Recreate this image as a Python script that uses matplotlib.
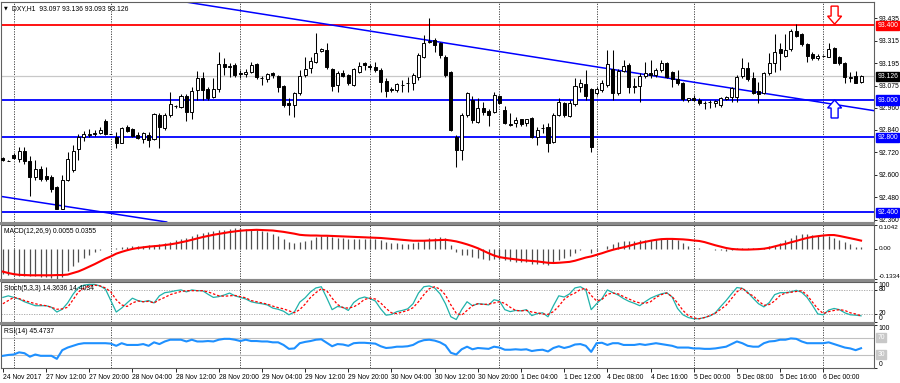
import matplotlib.pyplot as plt
from matplotlib.patches import Polygon, Rectangle

plt.rcParams['font.family'] = ['Liberation Sans', 'DejaVu Sans']
FS = 4.9

# ---- DXY H1 candles ----
opens = [
    92.690, 92.676, 92.705, 92.687, 92.730, 92.673, 92.587, 92.634, 92.595, 92.590,
    92.534, 92.420, 92.573, 92.627, 92.737, 92.800, 92.815, 92.818, 92.826, 92.890,
    92.818, 92.805, 92.772, 92.854, 92.843, 92.815, 92.790, 92.813, 92.790, 92.920,
    92.849, 92.920, 92.970, 92.961, 93.021, 92.938, 93.053, 93.120, 93.057, 93.018,
    93.057, 93.190, 93.176, 93.187, 93.142, 93.138, 93.151, 93.192, 93.118, 93.110,
    93.142, 93.128, 93.075, 92.986, 92.975, 93.036, 93.133, 93.169, 93.204, 93.262,
    93.267, 93.164, 93.080, 93.146, 93.133, 93.080, 93.151, 93.196, 93.180, 93.174,
    93.160, 93.103, 93.055, 93.053, 93.080, 93.090, 93.089, 93.124, 93.231, 93.307,
    93.320, 93.302, 93.231, 93.151, 92.804, 92.733, 92.920, 93.000, 92.884, 92.956,
    92.943, 92.938, 93.021, 92.947, 92.870, 92.875, 92.896, 92.875, 92.902, 92.804,
    92.850, 92.854, 92.778, 92.920, 92.986, 92.915, 92.978, 93.071, 93.085, 93.057,
    93.036, 93.053, 93.080, 93.164, 93.036, 93.156, 93.187, 93.071, 93.075, 93.128,
    93.146, 93.133, 93.160, 93.200, 93.151, 93.110, 93.092, 93.000, 93.012, 93.000,
    92.986, 92.990, 92.986, 92.973, 93.004, 93.018, 93.018, 93.130, 93.172, 93.120,
    93.048, 93.040, 93.142, 93.196, 93.270, 93.236, 93.272, 93.368, 93.350, 93.297,
    93.244, 93.222, 93.235, 93.231, 93.275, 93.227, 93.199, 93.120, 93.128, 93.097,
]
highs = [
    92.695, 92.678, 92.715, 92.750, 92.750, 92.700, 92.680, 92.650, 92.640, 92.600,
    92.540, 92.600, 92.724, 92.760, 92.820, 92.836, 92.843, 92.840, 92.856, 92.900,
    92.820, 92.830, 92.857, 92.867, 92.849, 92.830, 92.830, 92.830, 92.930, 92.930,
    92.930, 93.045, 92.975, 93.032, 93.032, 93.070, 93.157, 93.150, 93.071, 93.116,
    93.258, 93.222, 93.196, 93.196, 93.160, 93.165, 93.205, 93.196, 93.130, 93.145,
    93.151, 93.133, 93.080, 93.009, 93.045, 93.160, 93.231, 93.231, 93.356, 93.276,
    93.306, 93.169, 93.156, 93.160, 93.138, 93.169, 93.204, 93.204, 93.190, 93.204,
    93.169, 93.116, 93.070, 93.092, 93.107, 93.124, 93.142, 93.249, 93.347, 93.435,
    93.329, 93.310, 93.240, 93.156, 92.813, 92.929, 93.044, 93.021, 93.009, 92.991,
    92.950, 93.044, 93.027, 92.968, 92.930, 92.907, 92.900, 92.900, 92.910, 92.858,
    92.872, 92.875, 92.930, 93.009, 92.991, 93.000, 93.115, 93.110, 93.160, 93.062,
    93.070, 93.107, 93.266, 93.266, 93.164, 93.213, 93.196, 93.116, 93.142, 93.204,
    93.213, 93.169, 93.213, 93.204, 93.156, 93.160, 93.098, 93.013, 93.027, 93.013,
    92.995, 92.998, 93.000, 93.018, 93.022, 93.070, 93.133, 93.225, 93.204, 93.147,
    93.098, 93.150, 93.249, 93.350, 93.302, 93.350, 93.379, 93.405, 93.356, 93.302,
    93.254, 93.245, 93.240, 93.306, 93.284, 93.235, 93.204, 93.151, 93.156, 93.136,
]
lows = [
    92.675, 92.674, 92.683, 92.670, 92.660, 92.490, 92.573, 92.570, 92.570, 92.510,
    92.417, 92.417, 92.570, 92.618, 92.680, 92.783, 92.805, 92.810, 92.818, 92.813,
    92.816, 92.743, 92.770, 92.830, 92.800, 92.790, 92.770, 92.750, 92.785, 92.742,
    92.840, 92.911, 92.960, 92.955, 92.890, 92.900, 93.000, 93.000, 93.000, 93.009,
    93.045, 93.133, 93.125, 93.125, 93.120, 93.125, 93.142, 93.114, 93.080, 93.098,
    93.116, 93.045, 92.964, 92.920, 92.910, 93.027, 93.124, 93.142, 93.196, 93.258,
    93.164, 93.050, 93.044, 93.124, 93.080, 93.075, 93.146, 93.160, 93.160, 93.151,
    93.044, 93.018, 93.044, 93.044, 93.044, 93.044, 93.053, 93.107, 93.222, 93.302,
    93.258, 93.222, 93.124, 92.836, 92.644, 92.680, 92.911, 92.875, 92.879, 92.920,
    92.860, 92.929, 92.982, 92.870, 92.860, 92.858, 92.860, 92.860, 92.795, 92.760,
    92.826, 92.720, 92.772, 92.915, 92.910, 92.911, 92.968, 93.044, 93.000, 92.720,
    93.027, 93.044, 93.071, 93.000, 93.027, 93.151, 93.036, 93.036, 92.991, 93.120,
    93.116, 93.124, 93.151, 93.120, 93.071, 93.080, 92.996, 92.991, 92.995, 92.973,
    92.950, 92.955, 92.965, 92.964, 92.998, 92.990, 92.990, 93.116, 93.100, 93.030,
    92.982, 93.030, 93.133, 93.151, 93.160, 93.231, 93.262, 93.338, 93.290, 93.204,
    93.213, 93.215, 93.230, 93.227, 93.196, 93.187, 93.089, 93.098, 93.089, 93.093,
]
closes = [
    92.680, 92.676, 92.690, 92.726, 92.673, 92.590, 92.630, 92.577, 92.577, 92.527,
    92.420, 92.573, 92.687, 92.730, 92.800, 92.818, 92.820, 92.826, 92.840, 92.818,
    92.818, 92.770, 92.849, 92.836, 92.808, 92.797, 92.822, 92.787, 92.923, 92.854,
    92.920, 92.979, 92.968, 93.021, 92.938, 93.050, 93.116, 93.053, 93.009, 93.057,
    93.192, 93.174, 93.182, 93.133, 93.140, 93.151, 93.187, 93.121, 93.116, 93.137,
    93.133, 93.071, 92.973, 92.973, 93.040, 93.128, 93.164, 93.210, 93.252, 93.270,
    93.174, 93.075, 93.146, 93.128, 93.092, 93.164, 93.181, 93.185, 93.174, 93.160,
    93.098, 93.050, 93.060, 93.085, 93.082, 93.093, 93.133, 93.240, 93.302, 93.316,
    93.293, 93.240, 93.133, 92.840, 92.733, 92.920, 93.036, 92.893, 92.956, 92.938,
    92.920, 93.027, 92.986, 92.875, 92.867, 92.893, 92.872, 92.896, 92.804, 92.840,
    92.848, 92.772, 92.920, 92.991, 92.920, 92.982, 93.075, 93.089, 93.020, 92.750,
    93.057, 93.089, 93.192, 93.036, 93.156, 93.181, 93.071, 93.075, 93.128, 93.146,
    93.133, 93.160, 93.196, 93.124, 93.110, 93.089, 93.004, 93.009, 93.000, 92.982,
    92.984, 92.990, 92.995, 93.009, 93.018, 93.062, 93.124, 93.172, 93.112, 93.040,
    93.034, 93.142, 93.200, 93.254, 93.249, 93.266, 93.368, 93.343, 93.297, 93.236,
    93.222, 93.236, 93.236, 93.270, 93.200, 93.196, 93.121, 93.122, 93.092, 93.126,
]

# ---- indicators ----
macd_main = [
    -0.112, -0.115, -0.117, -0.118, -0.118, -0.121, -0.122, -0.124, -0.126, -0.128,
    -0.133, -0.125, -0.100, -0.075, -0.057, -0.040, -0.028, -0.016, -0.007, -0.003,
    -0.001, 0.001, 0.006, 0.007, 0.010, 0.012, 0.013, 0.015, 0.018, 0.021,
    0.024, 0.031, 0.037, 0.043, 0.049, 0.054, 0.063, 0.068, 0.072, 0.076,
    0.081, 0.084, 0.087, 0.089, 0.090, 0.088, 0.086, 0.082, 0.078, 0.072,
    0.065, 0.056, 0.043, 0.028, 0.025, 0.031, 0.035, 0.040, 0.050, 0.055,
    0.055, 0.050, 0.048, 0.046, 0.043, 0.043, 0.043, 0.043, 0.042, 0.041,
    0.037, 0.031, 0.027, 0.024, 0.022, 0.021, 0.023, 0.030, 0.038, 0.045,
    0.049, 0.050, 0.047, 0.018, -0.016, -0.028, -0.029, -0.036, -0.041, -0.045,
    -0.050, -0.045, -0.044, -0.051, -0.056, -0.058, -0.060, -0.060, -0.066, -0.067,
    -0.066, -0.071, -0.062, -0.049, -0.043, -0.034, -0.019, -0.006, -0.001, -0.018,
    -0.008, 0.000, 0.013, 0.019, 0.028, 0.034, 0.034, 0.035, 0.037, 0.037,
    0.040, 0.043, 0.043, 0.043, 0.041, 0.037, 0.025, 0.013, 0.004, 0.001,
    -0.001, -0.002, -0.004, -0.007, -0.010, -0.004, 0.001, 0.004, 0.004, 0.004,
    0.003, 0.004, 0.010, 0.013, 0.025, 0.037, 0.048, 0.060, 0.063, 0.063,
    0.060, 0.057, 0.057, 0.054, 0.045, 0.038, 0.028, 0.019, 0.009, 0.0055,
]
macd_signal = [
    -0.101, -0.107, -0.112, -0.115, -0.116, -0.117, -0.117, -0.117, -0.117, -0.117,
    -0.116, -0.116, -0.114, -0.107, -0.100, -0.090, -0.079, -0.068, -0.056, -0.044,
    -0.034, -0.022, -0.014, -0.007, -0.001, 0.003, 0.006, 0.009, 0.011, 0.013,
    0.016, 0.019, 0.023, 0.028, 0.033, 0.039, 0.045, 0.051, 0.056, 0.061,
    0.065, 0.069, 0.073, 0.076, 0.079, 0.081, 0.082, 0.083, 0.082, 0.081,
    0.080, 0.077, 0.074, 0.070, 0.066, 0.061, 0.059, 0.058, 0.058, 0.057,
    0.057, 0.056, 0.055, 0.054, 0.053, 0.052, 0.051, 0.050, 0.049, 0.048,
    0.047, 0.045, 0.043, 0.041, 0.039, 0.037, 0.035, 0.035, 0.035, 0.036,
    0.037, 0.038, 0.039, 0.036, 0.032, 0.026, 0.019, 0.011, 0.002, -0.009,
    -0.020, -0.030, -0.037, -0.041, -0.044, -0.047, -0.050, -0.052, -0.054, -0.056,
    -0.059, -0.062, -0.063, -0.062, -0.060, -0.058, -0.053, -0.046, -0.039, -0.034,
    -0.027, -0.020, -0.012, -0.005, 0.001, 0.006, 0.012, 0.019, 0.025, 0.030,
    0.035, 0.039, 0.042, 0.043, 0.043, 0.042, 0.041, 0.039, 0.036, 0.034,
    0.029, 0.022, 0.015, 0.009, 0.003, -0.001, -0.003, -0.004, -0.004, -0.003,
    -0.002, 0.000, 0.004, 0.010, 0.016, 0.021, 0.028, 0.034, 0.041, 0.047,
    0.052, 0.055, 0.058, 0.060, 0.060, 0.056, 0.051, 0.046, 0.041, 0.0355,
]
stoch_k = [
    61, 65, 61, 57, 50, 45, 40, 40, 40, 36,
    24, 31, 47, 69, 86, 92, 94, 94, 90, 82,
    53, 24, 34, 47, 59, 53, 50, 53, 47, 65,
    73, 75, 78, 80, 75, 80, 78, 78, 69, 61,
    63, 67, 72, 65, 61, 57, 50, 47, 45, 42,
    34, 31, 26, 17, 24, 49, 60, 75, 85, 88,
    60, 30, 38, 36, 28, 48, 58, 62, 58, 52,
    32, 16, 18, 25, 28, 32, 45, 72, 88, 90,
    85, 70, 45, 12, 5, 30, 50, 40, 45, 44,
    42, 55, 52, 30, 25, 28, 27, 30, 15, 20,
    22, 12, 40, 65, 62, 70, 85, 88, 80, 30,
    45, 58, 80, 73, 67, 58, 51, 46, 40, 50,
    59, 65, 70, 73, 62, 33, 17, 10, 7, 7,
    10, 14, 22, 38, 53, 70, 86, 84, 74, 59,
    45, 37, 48, 68, 73, 73, 75, 79, 74, 61,
    41, 19, 17, 29, 33, 30, 22, 17, 16, 14.3636,
]
stoch_d = [
    45, 53, 61, 58, 53, 49, 45, 42, 40, 36,
    31, 32, 36, 55, 75, 84, 90, 92, 90, 85,
    75, 55, 42, 38, 47, 52, 50, 51, 47, 55,
    61, 68, 72, 76, 78, 78, 78, 78, 75, 70,
    65, 64, 65, 66, 63, 60, 53, 50, 47, 44,
    39, 35, 32, 27, 22, 30, 44, 61, 73, 83,
    78, 59, 43, 35, 34, 37, 45, 56, 59, 57,
    47, 33, 22, 20, 24, 28, 35, 50, 68, 83,
    88, 82, 67, 42, 21, 16, 28, 40, 45, 43,
    44, 47, 50, 46, 36, 28, 27, 28, 24, 22,
    19, 18, 25, 39, 56, 66, 72, 81, 84, 66,
    52, 56, 69, 72, 70, 63, 57, 51, 47, 46,
    50, 61, 68, 72, 63, 47, 28, 15, 9, 7,
    10, 15, 21, 31, 41, 58, 75, 85, 72, 65,
    52, 41, 43, 52, 66, 72, 74, 76, 78, 67,
    49, 32, 20, 25, 28, 30, 28, 22, 19, 14.4034,
]
rsi = [
    28, 30, 31, 36, 34, 26, 31, 28, 28, 28,
    21, 41, 47, 51, 55, 57, 57, 57, 57, 57,
    56, 51, 57, 53, 53, 53, 55, 51, 59, 55,
    61, 65, 65, 65, 61, 65, 61, 61, 62, 61,
    65, 67, 67, 65, 62, 65, 62, 62, 61, 61,
    59, 59, 53, 44, 45, 57, 60, 62, 65, 66,
    58, 50, 55, 54, 51, 57, 58, 58, 57, 56,
    50, 46, 47, 49, 49, 50, 53, 60, 64, 65,
    63, 59, 52, 35, 31, 43, 49, 43, 46, 45,
    44, 49, 47, 42, 42, 43, 42, 43, 39, 41,
    42, 38, 46, 50, 46, 49, 54, 55, 51, 37,
    57, 58, 53, 57, 57, 53, 53, 53, 55, 53,
    55, 57, 55, 53, 51, 47, 47, 47, 45, 45,
    44, 44, 45, 47, 49, 55, 61, 57, 51, 49,
    49, 57, 61, 62, 65, 65, 68, 67, 61, 57,
    57, 57, 57, 59, 55, 51, 47, 45, 41, 45.4737,
]

time_labels = [
    '24 Nov 2017', '27 Nov 12:00', '27 Nov 20:00', '28 Nov 04:00', '28 Nov 12:00',
    '28 Nov 20:00', '29 Nov 04:00', '29 Nov 12:00', '29 Nov 20:00', '30 Nov 04:00',
    '30 Nov 12:00', '30 Nov 20:00', '1 Dec 04:00', '1 Dec 12:00', '4 Dec 08:00',
    '4 Dec 16:00', '5 Dec 00:00', '5 Dec 08:00', '5 Dec 16:00', '6 Dec 00:00',
]
time_label_bars = list(range(0, 160, 8))
day_start_bars = [2, 20, 44, 68, 92, 110, 128, 152]

price_ticks = [93.435, 93.315, 93.195, 93.075, 92.960, 92.840, 92.720, 92.600, 92.480, 92.360]
resistance = 93.400
supports = [93.000, 92.800, 92.400]
last_price = 93.126
trend_upper = [(55, 93.427), (150, 92.995)]
trend_lower = [(0, 92.484), (20, 92.395)]
arrow_down_at = (154.1, 93.405)
arrow_up_at = (154.1, 93.000)

macd_min, macd_max = -0.1334, 0.1042

bars = list(range(len(opens)))

# ---- figure ----
W, H = 900, 383
fig = plt.figure(figsize=(W / 100, H / 100), dpi=100)
fig.patch.set_facecolor('white')


def add_panel(top, bottom):
    a = fig.add_axes([1 / W, 1 - bottom / H, 873 / W, (bottom - top) / H])
    a.set_xlim(-0.35, 161.4)
    a.yaxis.tick_right()
    a.tick_params(axis='y', length=2.2, width=0.6, pad=1.0, labelsize=FS)
    a.tick_params(axis='x', bottom=False, labelbottom=False)
    for s in a.spines.values():
        s.set_color('#606060')
        s.set_linewidth(0.8)
    for g in day_start_bars:
        a.axvline(g, color='#303030', lw=0.6, ls=(0, (1.5, 1.5)), zorder=1)
    return a


def tag(a, y, text, color, fg='white'):
    a.text(1.004, y, text, transform=a.get_yaxis_transform(), fontsize=FS, color=fg,
           va='center', ha='left', zorder=10, clip_on=False,
           bbox=dict(boxstyle='square,pad=0.15', fc=color, ec=color))


ax = add_panel(2, 222)
ax_macd = add_panel(225, 279)
ax_st = add_panel(282, 321.5)
ax_rsi = add_panel(324.5, 368)

# gray splitters between windows
for top, bottom in [(222, 225), (279, 282), (321.5, 324.5)]:
    fig.add_artist(Rectangle((0, 1 - bottom / H), 875 / W, (bottom - top) / H,
                             transform=fig.transFigure, color='#8a8a8a', lw=0))

# ---- main price window ----
ax.set_ylim(92.349, 93.523)
ax.axhline(last_price, color='#c8c8c8', lw=0.9, zorder=1)
ax.axhline(resistance, color='#ff0000', lw=1.3, zorder=2)
for lv in supports:
    ax.axhline(lv, color='#0000ff', lw=1.3, zorder=2)
ax.axline(trend_upper[0], trend_upper[1], color='#0000ff', lw=1.1, zorder=2)
ax.axline(trend_lower[0], trend_lower[1], color='#0000ff', lw=1.1, zorder=2)

body_lo = [min(o, c) for o, c in zip(opens, closes)]
body_h = [abs(c - o) for o, c in zip(opens, closes)]
face = ['white' if c >= o else 'black' for o, c in zip(opens, closes)]
ax.vlines(bars, lows, highs, color='black', lw=0.75, zorder=3)
ax.bar(bars, body_h, bottom=body_lo, width=0.56, color=face, edgecolor='black',
       linewidth=0.7, zorder=4)

ax.set_yticks(price_ticks)
ax.set_yticklabels([f'{p:.3f}' for p in price_ticks])
tag(ax, resistance, f'{resistance:.3f}', '#ff0000')
for lv in supports:
    tag(ax, lv, f'{lv:.3f}', '#0000ff')
tag(ax, last_price, f'{last_price:.3f}', 'black')

# hollow arrows (pixel sized)
px, py = 1 / 5.4, 1 / 187.5
down_shape = [(0, 0), (-7, 8), (-3.5, 8), (-3.5, 18), (3.5, 18), (3.5, 8), (7, 8)]
up_shape = [(dx, -dy) for dx, dy in down_shape]
for (bx, by), shape, col in [(arrow_down_at, down_shape, '#ff0000'),
                             (arrow_up_at, up_shape, '#0000ff')]:
    pts = [(bx + dx * px, by + dy * py) for dx, dy in shape]
    ax.add_patch(Polygon(pts, closed=True, fc='white', ec=col, lw=1.0, zorder=6))

ax.text(0.003, 0.985, '\u25bc', transform=ax.transAxes, fontsize=3.5, va='top',
        family='DejaVu Sans')
ax.text(0.013, 0.985, 'DXY,H1  93.097 93.136 93.093 93.126', transform=ax.transAxes,
        fontsize=FS, va='top')

# ---- MACD ----
ax_macd.set_ylim(macd_min, macd_max)
ax_macd.vlines(bars, 0, macd_main, color='#505050', lw=0.9, zorder=2)
ax_macd.plot(bars, macd_signal, color='#ff0000', lw=1.5, zorder=3)
ax_macd.set_yticks([macd_min, 0, macd_max])
ax_macd.set_yticklabels(['-0.1334', '0.00', '0.1042'])
ax_macd.tick_params(axis='y', labelsize=4.6)
for lbl, va in zip(ax_macd.get_yticklabels(), ['bottom', 'center', 'top']):
    lbl.set_va(va)
ax_macd.text(0.003, 0.95, 'MACD(12,26,9) 0.0055 0.0355', transform=ax_macd.transAxes,
             fontsize=FS, va='top')

# ---- Stochastic ----
ax_st.set_ylim(0, 100)
for lv in [20, 80]:
    ax_st.axhline(lv, color='#a0a0a0', lw=0.6, ls=(0, (1.5, 1.5)), zorder=1)
ax_st.plot(bars, stoch_k, color='#20b2aa', lw=0.9, zorder=3)
ax_st.plot(bars, stoch_d, color='#ff0000', lw=0.9, ls=(0, (2, 1.5)), zorder=3)
ax_st.set_yticks([0, 20, 80, 100])
ax_st.set_yticklabels(['0', '20', '80', '100'])
for lbl, va in zip(ax_st.get_yticklabels(), ['bottom', 'center', 'center', 'top']):
    lbl.set_va(va)
ax_st.text(0.003, 0.93, 'Stoch(5,3,3) 14.3636 14.4034', transform=ax_st.transAxes,
           fontsize=FS, va='top')

# ---- RSI ----
ax_rsi.set_ylim(0, 100)
for lv in [30, 70]:
    ax_rsi.axhline(lv, color='#c0c0c0', lw=0.8, zorder=1)
ax_rsi.plot(bars, rsi, color='#1e90ff', lw=1.5, zorder=3)
ax_rsi.set_yticks([0, 100])
ax_rsi.set_yticklabels(['0', '100'])
for lbl, va in zip(ax_rsi.get_yticklabels(), ['bottom', 'top']):
    lbl.set_va(va)
tag(ax_rsi, 70, '70', '#c8c8c8')
tag(ax_rsi, 30, '30', '#c8c8c8')
ax_rsi.text(0.003, 0.93, 'RSI(14) 45.4737', transform=ax_rsi.transAxes,
            fontsize=FS, va='top')

ax_rsi.tick_params(axis='x', bottom=True, labelbottom=True, length=3, width=0.6,
                   pad=1.5, labelsize=FS)
ax_rsi.set_xticks(time_label_bars)
ax_rsi.set_xticklabels(time_labels, ha='left')

fig.savefig('out.png', dpi=100)
